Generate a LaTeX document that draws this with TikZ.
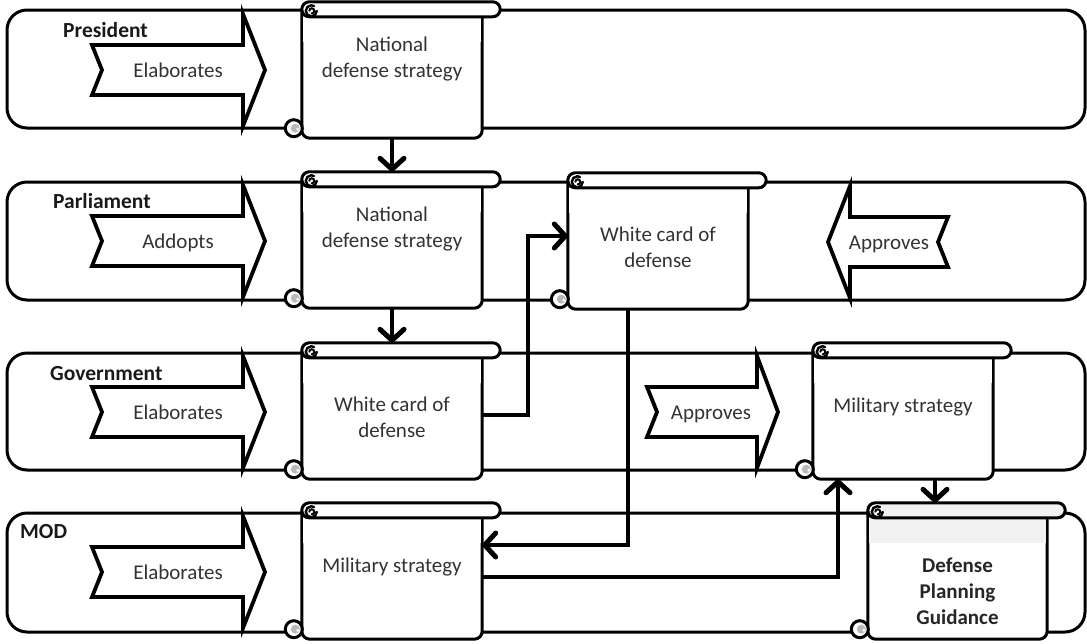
\documentclass[tikz,border=0pt]{standalone}
\usepackage{fontspec}
\setmainfont{Carlito}
\usetikzlibrary{arrows.meta,calc}

\tikzset{
  lane/.style={draw, line width=3pt, rounded corners=20pt, inner sep=0pt, minimum width=1078pt},
  scroll/.style={inner sep=0pt, minimum width=180pt, minimum height=136pt},
  sline/.style={line width=3pt, line join=round},
  blk/.style={draw, line width=3.8pt, fill=white, line join=miter},
  txt/.style={text=black!80, font=\fontsize{21}{26}\selectfont, align=center, inner sep=0pt},
  onetxt/.style={text=black!80, font=\fontsize{21}{26}\selectfont, inner sep=0pt, anchor=base},
  lanelabel/.style={text=black!90, font=\fontsize{21.5}{24}\selectfont\bfseries, inner sep=0pt, anchor=base west},
  conn/.style={line width=3.5pt, -{Straight Barb[length=11pt,width=24pt,line width=5pt,round]}},
}

% scroll outline around a named node: body, top roll and the two curls
\newcommand{\scrolldraw}[2][white]{%
  \draw[sline, fill=white, rounded corners=8pt]
    ($(#2.north west)+(0,8)$) -- (#2.south west) -- (#2.south east) -- ($(#2.north east)+(0,8)$);
  \fill[#1] ($(#2.north west)+(1.5,15)$) rectangle ($(#2.north east)+(-1.5,40)$);
  \draw[sline, fill=#1, rounded corners=7.5pt]
    ($(#2.north west)+(0,0)$) rectangle ($(#2.north east)+(18,15)$);
  % rolled-up top end
  \fill[white] ($(#2.north west)+(9.5,7.5)$) circle (6pt);
  \draw[line width=2.4pt, line cap=round]
    ($(#2.north west)+(15,9)$) arc[start angle=0, end angle=-300, radius=5.5pt];
  \draw[line width=2pt, line cap=round]
    ($(#2.north west)+(7.5,9)$) arc[start angle=180, end angle=-90, radius=2.5pt];
  % rolled-up bottom end
  \draw[sline, fill=white] ($(#2.south west)+(-8,-10)$) circle (8.5pt);
  \fill[gray!55] ($(#2.south west)+(-6.5,-10)$) circle (4.5pt);
  \fill[white] ($(#2.south west)+(-4,-9)$) circle (1.6pt);
}

% block arrow: tail x, notch x, head base x, tip x, centre y
\newcommand{\blockarrow}[5]{%
  \draw[blk] (#1,#5-25) -- (#3,#5-25) -- (#3,#5-56) -- (#4,#5) -- (#3,#5+56)
    -- (#3,#5+25) -- (#1,#5+25) -- (#2,#5) -- cycle;
}

\begin{document}
\begin{tikzpicture}[x=1pt, y=-1pt]
\useasboundingbox (0,0) rectangle (1087,643);

% swim lanes
\node[lane, minimum height=118pt] (presLane) at (546,69) {};
\node[lane, minimum height=118pt] (parlLane) at (546,241) {};
\node[lane, minimum height=117pt] (govLane) at (546,411.5) {};
\node[lane, minimum height=119pt] (modLane) at (546,572.5) {};

\node[lanelabel] (presLbl) at (63,37) {President};
\node[lanelabel] (parlLbl) at (53,208) {Parliament};
\node[lanelabel] (govLbl) at (50,380) {Government};
\node[lanelabel] (modLbl) at (20,538) {MOD};

% action arrows
\blockarrow{92}{102}{243}{265}{70}
\blockarrow{92}{102}{243}{265}{241}
\blockarrow{92}{102}{243}{265}{412}
\blockarrow{92}{102}{243}{265}{572}
\blockarrow{647}{657}{757}{778}{412}
\blockarrow{948}{938}{850}{828}{242}

\node[onetxt] (presAct) at (178,77) {Elaborates};
\node[onetxt] (parlAct) at (178,248) {Addopts};
\node[onetxt] (govAct) at (178,419) {Elaborates};
\node[onetxt] (modAct) at (178,579) {Elaborates};
\node[onetxt] (govAppr) at (711,419) {Approves};
\node[onetxt] (parlAppr) at (889,249) {Approves};

% documents
\node[scroll] (presNDS) at (392,70) {};
\node[scroll] (parlNDS) at (392,240) {};
\node[scroll] (parlWC) at (658,241) {};
\node[scroll] (govWC) at (392,411) {};
\node[scroll] (govMS) at (903,411) {};
\node[scroll] (modMS) at (392,571) {};
\node[scroll, minimum width=179pt] (dpg) at (957.5,571) {};

\scrolldraw{presNDS}
\scrolldraw{parlNDS}
\scrolldraw{parlWC}
\scrolldraw{govWC}
\scrolldraw{govMS}
\scrolldraw{modMS}
\scrolldraw[gray!10]{dpg}

\node[txt] (presNDSt) at ($(presNDS.north)+(0,57.5)$) {National\\defense strategy};
\node[txt] (parlNDSt) at ($(parlNDS.north)+(0,57.5)$) {National\\defense strategy};
\node[txt] (parlWCt) at ($(parlWC.north)+(0,74.5)$) {White card of\\defense};
\node[txt] (govWCt) at ($(govWC.north)+(0,74)$) {White card of\\defense};
\node[onetxt] (govMSt) at ($(govMS.north)+(0,70)$) {Military strategy};
\node[onetxt] (modMSt) at ($(modMS.north)+(0,70)$) {Military strategy};
\node[txt, font=\fontsize{21}{26}\selectfont\bfseries, text=black!85] (dpgt) at ($(dpg.north)+(0,88)$) {Defense\\Planning\\Guidance};

% flow between documents
\draw[conn] (presNDS.south) -- (parlNDS.north);
\draw[conn] (parlNDS.south) -- (govWC.north);
\draw[conn] ([yshift=-4pt]govWC.east) -- ++(46,0) |- ([yshift=5pt]parlWC.west);
\draw[conn] ([xshift=-30pt]parlWC.south) |- ([yshift=26pt]modMS.east);
\draw[conn] ([yshift=-6pt]modMS.east) -| ([xshift=-65pt]govMS.south);
\draw[conn] ([xshift=32pt]govMS.south) -- ([xshift=32pt]govMS.south |- dpg.north);
\end{tikzpicture}
\end{document}
